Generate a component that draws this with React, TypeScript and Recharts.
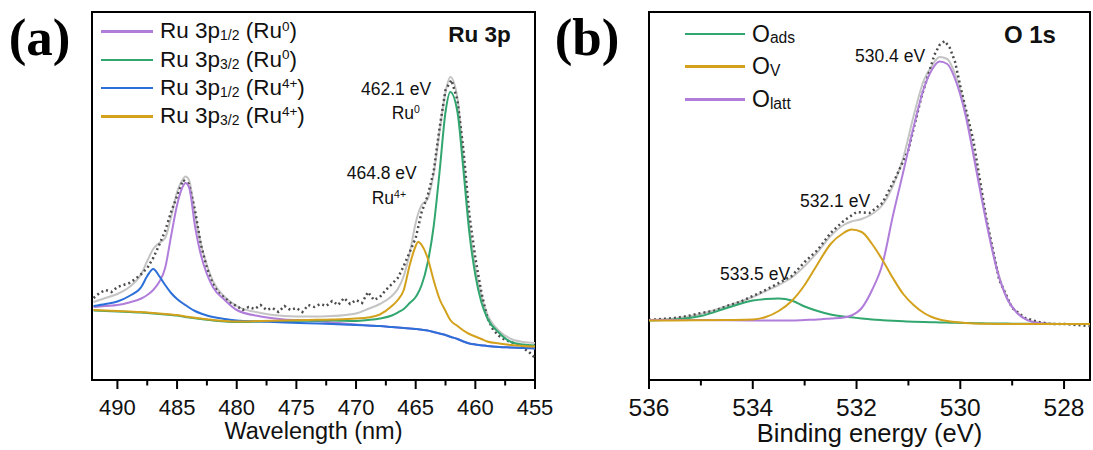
import React from 'react'
import { LineChart, Line, XAxis, YAxis, Legend, ReferenceArea } from 'recharts'

const FONT = '"Liberation Sans", Arial, Helvetica, sans-serif'
const SERIF = '"Liberation Serif", "Times New Roman", serif'

const PURPLE = '#b17ddb'
const GREEN = '#31a66f'
const BLUE = '#2b6fd8'
const GOLD = '#d3a11b'
const FIT = '#c4c4c4'
const RAW = '#4d4d4d'

const Y_DOMAIN = [8, 376]

// ---- (a) Ru 3p ----
const nmA = [492, 491, 490, 489, 488, 487.5, 487, 486.5, 486, 485.5, 485, 484.5, 484.3, 484, 483.5, 483, 482.5, 482, 481, 480, 478, 476, 474, 472, 470, 469, 468, 467, 466.5, 466, 465.5, 465, 464.8, 464.5, 464, 463.5, 463, 462.5, 462.1, 461.5, 461, 460.5, 460, 459.5, 459, 458, 457, 456, 455]
const fitA = [86, 90, 94, 101, 114, 127, 139, 145, 150, 171, 196, 209, 211.5, 208, 174, 144, 123, 107, 91, 82, 75, 72, 71.5, 72, 74.5, 79, 84, 92, 99, 112, 135, 165, 174, 183, 189, 214, 256, 296, 311, 290, 228, 162, 120, 92, 74, 57, 49, 46, 45]
const ru0HalfA = [81, 82, 83, 85.5, 89.5, 93, 98, 106, 120, 152, 183, 202, 205, 201, 162, 133, 114, 101, 88, 78, 71.5, 68.5, 67.5, 65.5, 63.5, 62.5, 62, 61, 60.5, 60, 59.5, 59, 58.8, 58.3, 57.5, 56, 54.5, 53, 51.3, 49, 46.5, 44.5, 43.5, 42.8, 42, 41, 40.5, 40, 39.5]
const ru0ThreeHalfA = [77.5, 77, 76.5, 76, 75.5, 75, 74.5, 74, 73.5, 73, 72.5, 71.5, 71, 70.5, 69.7, 69, 68.3, 67.5, 66.5, 66, 66.5, 67, 67.3, 67.5, 67, 68, 69.5, 72.5, 75.5, 79, 85, 91, 95, 103, 125, 161, 216, 276, 296, 276, 218, 155, 113, 86, 70, 55, 46, 43.5, 42.5]
const ru4HalfA = [82, 84, 86.5, 92, 101, 112, 119, 112, 103, 95, 89, 84.5, 83, 80.5, 77, 74.5, 72.5, 71, 69, 67.5, 66.5, 65.5, 64.7, 64, 63, 62.5, 62, 61, 60.5, 60, 59.5, 59, 58.8, 58.3, 57.5, 56, 54.5, 53, 51.3, 49, 46.5, 44.5, 43.5, 42.8, 42, 41, 40.5, 40, 39.5]
const ru4ThreeHalfA = [78, 77.5, 77, 76.5, 76, 75.5, 75, 74.5, 74, 73.5, 73, 72, 71.5, 71, 70.2, 69.5, 68.8, 68, 67, 66.5, 67, 67.5, 68, 68.5, 69.5, 70.5, 73.5, 82, 88, 98, 123, 142, 146.3, 143, 130, 108, 89, 77, 68, 62, 57.5, 54, 51.5, 49, 46.5, 44.5, 43, 42, 41.5]

const rawNmA = [492, 491.5, 491, 490.5, 490, 489.5, 489, 488.5, 488, 487.5, 487, 486.5, 486, 485.5, 485, 484.5, 484, 483.5, 483, 482.5, 482, 481.5, 481, 480.5, 480, 479.5, 479, 478.5, 478, 477.5, 477, 476.5, 476, 475.5, 475, 474.5, 474, 473.5, 473, 472.5, 472, 471.5, 471, 470.5, 470, 469.5, 469, 468.5, 468, 467.5, 467, 466.5, 466, 465.5, 465, 464.5, 464, 463.5, 463, 462.5, 462, 461.5, 461, 460.5, 460, 459.5, 459, 458.5, 458, 457.5, 457, 456.5, 456, 455.5, 455]
const rawA = [90, 95, 98, 96, 101, 103, 105, 109, 114, 120, 130, 143, 157, 176, 192, 208, 204, 178, 143, 120, 104, 95, 90, 85, 82, 78, 81, 79, 83, 78, 80, 76, 82, 78, 80, 76, 83, 81, 84, 82, 87, 83, 90, 84, 88, 85, 96, 88, 91, 98, 104, 110, 122, 136, 150, 176, 192, 216, 260, 298, 308, 288, 238, 173, 130, 96, 70, 58, 52, 48, 46, 43, 40, 36, 30]

const ticksA = [455, 457.5, 460, 462.5, 465, 467.5, 470, 472.5, 475, 477.5, 480, 482.5, 485, 487.5, 490]

// ---- (b) O 1s ----
const evB = [536, 535.5, 535, 534.5, 534, 533.75, 533.5, 533.25, 533, 532.75, 532.5, 532.25, 532.1, 531.9, 531.7, 531.5, 531.3, 531.1, 530.9, 530.7, 530.55, 530.4, 530.25, 530.1, 529.9, 529.7, 529.5, 529.3, 529.1, 528.9, 528.7, 528.5, 528.25, 528, 527.5]
const fitB = [68, 69.5, 74, 82, 91, 97, 103, 110.5, 122, 136, 152, 163, 166.5, 169, 174, 183, 202, 230, 272, 308, 322, 331, 329, 314, 278, 224, 169, 121, 90, 75, 68, 65.5, 64.5, 64, 64]
const oAdsB = [67.5, 68.5, 72, 80, 87.5, 89, 89.5, 87.5, 81.5, 77, 73.5, 71.5, 70.7, 69.5, 68.5, 67.8, 67.2, 66.7, 66.3, 66, 65.8, 65.6, 65.4, 65.2, 65, 64.8, 64.6, 64.5, 64.4, 64.3, 64.2, 64.1, 64, 64, 64]
const oVB = [67.5, 67.5, 67.7, 68, 68.5, 71, 77, 87, 103, 124, 144, 155, 158.5, 156, 144, 128, 110, 94, 83, 75, 71, 68.5, 67, 66, 65, 64.5, 64.2, 64, 64, 64, 64, 64, 64, 64, 64]
const oLattB = [68, 68, 68, 67.8, 67.6, 67.5, 67.4, 67.5, 68, 68.5, 69.5, 70.5, 72.5, 80, 98, 124, 172, 216, 261, 300, 318, 326.5, 324, 309, 273, 220, 166, 119.5, 89.5, 74.7, 67.7, 65, 64, 64, 64]

const rawEvB = [536, 535.75, 535.5, 535.25, 535, 534.75, 534.5, 534.25, 534, 533.75, 533.5, 533.25, 533, 532.75, 532.5, 532.25, 532, 531.75, 531.5, 531.25, 531, 530.75, 530.5, 530.4, 530.3, 530.2, 530.1, 530, 529.75, 529.5, 529.25, 529, 528.75, 528.5, 528.25, 528, 527.75, 527.5]
const rawB = [68, 69, 70, 72, 75, 77, 82, 86, 92, 98, 105, 112, 126, 138, 155, 167, 176, 175, 185, 210, 238, 291, 333, 343, 347, 340, 326, 302, 248, 170, 108, 80, 70, 66, 64, 64, 63, 62]

const ticksB = [528, 529, 530, 531, 532, 533, 534, 535, 536]

const rowsA = nmA.map((x, i) => ({
  x,
  fit: fitA[i],
  ru0Half: ru0HalfA[i],
  ru0ThreeHalf: ru0ThreeHalfA[i],
  ru4Half: ru4HalfA[i],
  ru4ThreeHalf: ru4ThreeHalfA[i],
}))
const rawRowsA = rawNmA.map((x, i) => ({ x, raw: rawA[i] }))

const rowsB = evB.map((x, i) => ({ x, fit: fitB[i], ads: oAdsB[i], v: oVB[i], latt: oLattB[i] }))
const rawRowsB = rawEvB.map((x, i) => ({ x, raw: rawB[i] }))

function makeTick(fontSize: number, labelDy: number, isMajor: (v: number) => boolean) {
  return (props: any) => {
    const { x, y, payload } = props
    const major = isMajor(payload.value)
    return (
      <g>
        <line x1={x} x2={x} y1={y} y2={y + (major ? 9 : 5.5)} stroke='#000' strokeWidth={2} />
        {major ? (
          <text x={x} y={y + labelDy} textAnchor='middle' fontSize={fontSize} fontFamily={FONT} fill='#111'>
            {payload.value}
          </text>
        ) : null}
      </g>
    )
  }
}

const sup = { fontSize: '0.6em', position: 'relative' as const, top: '-0.55em' }
const sub = { fontSize: '0.62em', position: 'relative' as const, top: '0.15em' }

const legendA = [
  { color: PURPLE, orbital: '1/2', state: '0' },
  { color: GREEN, orbital: '3/2', state: '0' },
  { color: BLUE, orbital: '1/2', state: '4+' },
  { color: GOLD, orbital: '3/2', state: '4+' },
]
const legendB = [
  { color: GREEN, label: 'ads' },
  { color: GOLD, label: 'V' },
  { color: PURPLE, label: 'latt' },
]

function LegendA() {
  return (
    <div style={{ fontFamily: FONT, color: '#111', fontSize: 22.5, lineHeight: 1 }}>
      {legendA.map((d, i) => (
        <div key={i} style={{ display: 'flex', alignItems: 'center', height: 28.3 }}>
          <div style={{ width: 52, height: 2.5, background: d.color }} />
          <span style={{ marginLeft: 7, whiteSpace: 'nowrap' }}>
            Ru 3p<span style={sub}>{d.orbital}</span> (Ru<span style={sup}>{d.state}</span>)
          </span>
        </div>
      ))}
    </div>
  )
}

function LegendB() {
  return (
    <div style={{ fontFamily: FONT, color: '#111', fontSize: 23, lineHeight: 1 }}>
      {legendB.map((d, i) => (
        <div key={i} style={{ display: 'flex', alignItems: 'center', height: 32.7 }}>
          <div style={{ width: 60, height: 2.5, background: d.color }} />
          <span style={{ marginLeft: 7, whiteSpace: 'nowrap' }}>
            O<span style={{ fontSize: '0.68em', position: 'relative', top: '0.12em' }}>{d.label}</span>
          </span>
        </div>
      ))}
    </div>
  )
}

function Note({ left, cy, size = 17.5, bold = false, children }: any) {
  return (
    <div
      style={{
        position: 'absolute',
        left,
        top: cy - 0.4885 * size,
        fontSize: size,
        lineHeight: 1,
        fontWeight: bold ? 700 : 400,
        whiteSpace: 'nowrap',
        color: '#111',
        fontFamily: FONT,
      }}
    >
      {children}
    </div>
  )
}

function PanelTag({ left, children }: any) {
  return (
    <div
      style={{
        position: 'absolute',
        left,
        top: 11,
        fontFamily: SERIF,
        fontWeight: 700,
        fontSize: 53,
        lineHeight: 1,
        color: '#000',
      }}
    >
      {children}
    </div>
  )
}

export default function App() {
  return (
    <div style={{ position: 'fixed', left: 0, top: 0, width: 1093, height: 450, background: '#fff', fontFamily: FONT, overflow: 'hidden' }}>
      <div style={{ position: 'absolute', left: 0, top: 0 }}>
        <LineChart width={570} height={450} data={rowsA} margin={{ top: 12, right: 35, bottom: 10, left: 92 }}>
          <XAxis
            dataKey='x'
            type='number'
            domain={[455, 492.13]}
            reversed
            allowDataOverflow
            ticks={ticksA}
            interval={0}
            tickSize={0}
            tickMargin={0}
            tickLine={false}
            axisLine={false}
            height={60}
            tick={makeTick(22, 34.6, (v) => v % 5 === 0)}
            label={{ value: 'Wavelength (nm)', position: 'insideBottom', offset: 1, fontSize: 23.5, fill: '#111', fontFamily: FONT }}
          />
          <YAxis
            type='number'
            domain={Y_DOMAIN}
            allowDataOverflow
            tick={false}
            tickLine={false}
            axisLine={false}
            width={0}
            label={{
              content: () => (
                <text x={72.7} y={216.7} transform='rotate(-90 72.7 216.7)' textAnchor='middle' fontSize={23} fontFamily={FONT} fill='#111'>
                  Intensity (a.u)
                </text>
              ),
            }}
          />
          <Legend layout='horizontal' verticalAlign='middle' align='center' content={<LegendA />} wrapperStyle={{ left: 101, top: 17.5, width: 300, height: 'auto' }} />
          <Line type='monotone' dataKey='fit' stroke={FIT} strokeWidth={2} dot={false} isAnimationActive={false} />
          <Line type='linear' data={rawRowsA} dataKey='raw' stroke={RAW} strokeWidth={2.5} strokeDasharray='2 3' dot={false} isAnimationActive={false} />
          <Line type='monotone' dataKey='ru0Half' stroke={PURPLE} strokeWidth={2} dot={false} isAnimationActive={false} />
          <Line type='monotone' dataKey='ru0ThreeHalf' stroke={GREEN} strokeWidth={2} dot={false} isAnimationActive={false} />
          <Line type='monotone' dataKey='ru4Half' stroke={BLUE} strokeWidth={2} dot={false} isAnimationActive={false} />
          <Line type='monotone' dataKey='ru4ThreeHalf' stroke={GOLD} strokeWidth={2} dot={false} isAnimationActive={false} />
          <ReferenceArea x1={455} x2={492.13} y1={8} y2={376} fill='none' stroke='#000' strokeWidth={2} ifOverflow='visible' />
        </LineChart>
      </div>

      <div style={{ position: 'absolute', left: 546, top: 0 }}>
        <LineChart width={547} height={450} data={rowsB} margin={{ top: 12, right: 3, bottom: 10, left: 103 }}>
          <XAxis
            dataKey='x'
            type='number'
            domain={[527.5, 536]}
            reversed
            allowDataOverflow
            ticks={ticksB}
            interval={0}
            tickSize={0}
            tickMargin={0}
            tickLine={false}
            axisLine={false}
            height={60}
            tick={makeTick(24.5, 35.5, (v) => v % 2 === 0)}
            label={{ value: 'Binding energy (eV)', position: 'insideBottom', offset: -2, fontSize: 25.5, fill: '#111', fontFamily: FONT }}
          />
          <YAxis
            type='number'
            domain={Y_DOMAIN}
            allowDataOverflow
            tick={false}
            tickLine={false}
            axisLine={false}
            width={0}
            label={{
              content: () => (
                <text x={90.3} y={224} transform='rotate(-90 90.3 224)' textAnchor='middle' fontSize={26} fontFamily={FONT} fill='#111'>
                  Intensity (a.u)
                </text>
              ),
            }}
          />
          <Legend layout='horizontal' verticalAlign='middle' align='center' content={<LegendB />} wrapperStyle={{ left: 139, top: 17.7, width: 200, height: 'auto' }} />
          <Line type='monotone' dataKey='fit' stroke={FIT} strokeWidth={2} dot={false} isAnimationActive={false} />
          <Line type='linear' data={rawRowsB} dataKey='raw' stroke={RAW} strokeWidth={2.5} strokeDasharray='2 3' dot={false} isAnimationActive={false} />
          <Line type='monotone' dataKey='ads' stroke={GREEN} strokeWidth={2} dot={false} isAnimationActive={false} />
          <Line type='monotone' dataKey='latt' stroke={PURPLE} strokeWidth={2} dot={false} isAnimationActive={false} />
          <Line type='monotone' dataKey='v' stroke={GOLD} strokeWidth={2} dot={false} isAnimationActive={false} />
          <ReferenceArea x1={527.5} x2={536} y1={8} y2={376} fill='none' stroke='#000' strokeWidth={2} ifOverflow='visible' />
        </LineChart>
      </div>

      <PanelTag left={8.7}>(a)</PanelTag>
      <PanelTag left={554.7}>(b)</PanelTag>

      <Note left={448.3} cy={35} size={22.5} bold>Ru 3p</Note>
      <Note left={361} cy={90}>462.1 eV</Note>
      <Note left={391.7} cy={113.3}>
        Ru<span style={sup}>0</span>
      </Note>
      <Note left={346.7} cy={174}>464.8 eV</Note>
      <Note left={371.7} cy={198.3}>
        Ru<span style={sup}>4+</span>
      </Note>

      <Note left={1003.9} cy={35} size={24} bold>O 1s</Note>
      <Note left={855} cy={56.7}>530.4 eV</Note>
      <Note left={800} cy={201.7}>532.1 eV</Note>
      <Note left={720} cy={275}>533.5 eV</Note>
    </div>
  )
}
